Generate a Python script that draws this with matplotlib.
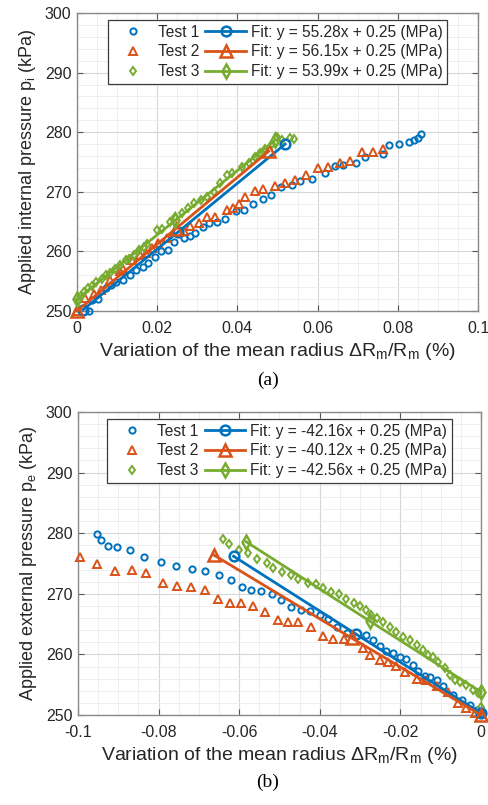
import matplotlib
matplotlib.use("Agg")
import matplotlib.pyplot as plt
from matplotlib.ticker import MultipleLocator
import numpy as np

plt.rcParams['font.family'] = ['Liberation Sans', 'DejaVu Sans']
plt.rcParams['mathtext.fontset'] = 'custom'
plt.rcParams['mathtext.rm'] = 'Liberation Sans'

C1, C2, C3 = '#0072BD', '#D95319', '#77AC30'

# ---------------- (a) internal pressure ----------------
a_t1_x = [0.0029, 0.0038, 0.0052, 0.0073, 0.0086, 0.0098, 0.0115, 0.0131, 0.0148, 0.0165,
          0.0178, 0.0195, 0.0210, 0.0227, 0.0243, 0.0266, 0.0282, 0.0294, 0.0313, 0.0330,
          0.0348, 0.0370, 0.0397, 0.0416, 0.0438, 0.0464, 0.0485, 0.0509, 0.0535, 0.0557,
          0.0587, 0.0619, 0.0644, 0.0664, 0.0695, 0.0717, 0.0763, 0.0778, 0.0802, 0.0828,
          0.0840, 0.0851, 0.0859]
a_t1_y = [250.0, 251.8, 252.0, 253.8, 254.4, 254.9, 255.2, 256.0, 256.8, 257.4,
          258.0, 259.1, 260.1, 260.3, 261.6, 262.3, 262.6, 263.1, 264.1, 264.8,
          264.9, 265.5, 266.8, 267.0, 267.9, 268.8, 269.4, 270.8, 271.2, 271.8,
          272.1, 273.2, 274.3, 274.5, 274.9, 275.9, 276.4, 277.8, 278.1, 278.4,
          278.7, 279.0, 279.7]
a_t2_x = [0.0000, 0.0021, 0.0042, 0.0060, 0.0082, 0.0107, 0.0115, 0.0137, 0.0156, 0.0173,
          0.0187, 0.0202, 0.0225, 0.0266, 0.0283, 0.0304, 0.0324, 0.0345, 0.0374, 0.0388,
          0.0405, 0.0420, 0.0443, 0.0464, 0.0493, 0.0519, 0.0544, 0.0570, 0.0600, 0.0625,
          0.0656, 0.0681, 0.0710, 0.0739, 0.0763]
a_t2_y = [250.0, 252.1, 252.8, 253.5, 255.2, 256.7, 257.0, 258.5, 259.4, 259.8,
          260.5, 261.4, 262.3, 263.4, 264.2, 264.8, 265.7, 265.7, 267.0, 267.3,
          268.0, 269.1, 270.2, 270.5, 271.0, 271.4, 272.0, 272.8, 274.0, 274.2,
          274.8, 275.2, 276.6, 276.7, 277.2]
a_t3_x = [0.0000, 0.0009, 0.0017, 0.0028, 0.0038, 0.0048, 0.0063, 0.0073, 0.0082, 0.0096,
          0.0108, 0.0121, 0.0129, 0.0141, 0.0154, 0.0166, 0.0175, 0.0200, 0.0212, 0.0233,
          0.0245, 0.0262, 0.0278, 0.0291, 0.0308, 0.0324, 0.0341, 0.0357, 0.0374, 0.0387,
          0.0411, 0.0428, 0.0445, 0.0457, 0.0469, 0.0486, 0.0499, 0.0511, 0.0532, 0.0542]
a_t3_y = [252.1, 252.6, 253.2, 253.8, 254.2, 254.9, 255.4, 256.1, 256.3, 257.1,
          257.7, 258.5, 258.8, 259.4, 260.2, 260.8, 261.3, 263.6, 263.8, 265.0,
          265.8, 266.4, 267.2, 268.1, 268.6, 269.2, 270.0, 271.4, 272.8, 273.2,
          274.2, 274.9, 275.9, 276.5, 277.1, 278.0, 279.2, 278.7, 279.0, 278.9]
a_f1_x = [0.0015, 0.0251, 0.0519]
a_f1_y = [250.2, 263.2, 278.0]
a_f2_x = [0.0000, 0.0246, 0.0478]
a_f2_y = [250.0, 263.8, 276.8]
a_f3_x = [0.0000, 0.0245, 0.0495]
a_f3_y = [252.0, 265.2, 278.7]
a_fit_labels = ['Fit: y = 55.28x + 0.25 (MPa)', 'Fit: y = 56.15x + 0.25 (MPa)',
                'Fit: y = 53.99x + 0.25 (MPa)']

# ---------------- (b) external pressure ----------------
b_t1_x = [-0.0952, -0.0944, -0.0925, -0.0904, -0.0871, -0.0836, -0.0794, -0.0757, -0.0718, -0.0686,
          -0.0649, -0.0620, -0.0594, -0.0570, -0.0546, -0.0519, -0.0496, -0.0471, -0.0446, -0.0424,
          -0.0400, -0.0380, -0.0357, -0.0333, -0.0286, -0.0269, -0.0251, -0.0235, -0.0218, -0.0201,
          -0.0185, -0.0168, -0.0156, -0.0139, -0.0127, -0.0110, -0.0094, -0.0069, -0.0048, -0.0027,
          -0.0011, 0.0000]
b_t1_y = [279.9, 278.9, 277.9, 277.7, 277.3, 276.1, 275.2, 274.6, 274.1, 273.8,
          273.1, 272.2, 271.1, 270.6, 270.4, 270.0, 269.0, 267.8, 267.3, 267.2,
          266.5, 265.8, 264.6, 263.5, 263.2, 262.4, 261.4, 260.6, 260.3, 259.6,
          259.2, 258.3, 257.3, 256.4, 256.2, 255.8, 254.8, 253.3, 252.5, 251.7,
          250.8, 250.3]
b_t2_x = [-0.0995, -0.0953, -0.0909, -0.0867, -0.0832, -0.0790, -0.0755, -0.0719, -0.0684, -0.0653,
          -0.0624, -0.0595, -0.0565, -0.0537, -0.0504, -0.0479, -0.0453, -0.0421, -0.0392, -0.0367,
          -0.0341, -0.0294, -0.0276, -0.0251, -0.0231, -0.0210, -0.0189, -0.0160, -0.0137, -0.0110,
          -0.0081, -0.0056, -0.0037, -0.0015]
b_t2_y = [276.0, 274.9, 273.8, 274.0, 273.4, 271.8, 271.3, 271.2, 270.7, 269.2,
          268.5, 268.5, 268.0, 267.0, 265.7, 265.4, 265.3, 264.5, 263.1, 262.5,
          262.5, 261.0, 259.9, 259.0, 258.8, 258.1, 257.1, 255.9, 255.7, 254.8,
          253.8, 252.0, 251.1, 250.4]
b_t3_x = [-0.0641, -0.0626, -0.0601, -0.0579, -0.0555, -0.0532, -0.0515, -0.0494, -0.0471, -0.0454,
          -0.0430, -0.0409, -0.0391, -0.0371, -0.0353, -0.0334, -0.0315, -0.0301, -0.0286, -0.0272,
          -0.0258, -0.0243, -0.0226, -0.0210, -0.0193, -0.0177, -0.0160, -0.0145, -0.0131, -0.0119,
          -0.0106, -0.0090, -0.0077, -0.0065, -0.0052, -0.0036, -0.0019, -0.0007, 0.0000]
b_t3_y = [279.0, 278.2, 277.3, 276.7, 275.7, 275.0, 274.2, 273.6, 273.1, 272.4,
          271.7, 271.6, 271.0, 270.3, 269.9, 269.1, 268.5, 268.0, 267.3, 266.5,
          266.0, 265.4, 264.5, 263.7, 262.9, 262.4, 261.6, 260.7, 259.9, 259.5,
          258.8, 257.7, 256.6, 255.8, 255.5, 255.0, 254.1, 253.6, 251.4]
b_f1_x = [-0.0614, -0.0309, 0.0000]
b_f1_y = [276.2, 263.3, 250.3]
b_f2_x = [-0.0663, -0.0321, 0.0000]
b_f2_y = [276.4, 262.7, 250.0]
b_f3_x = [-0.0583, -0.0276, 0.0000]
b_f3_y = [278.6, 265.5, 253.8]
b_fit_labels = ['Fit: y = -42.16x + 0.25 (MPa)', 'Fit: y = -40.12x + 0.25 (MPa)',
                'Fit: y = -42.56x + 0.25 (MPa)']

test_labels = ['Test 1', 'Test 2', 'Test 3']
x_ticks_a = [0, 0.02, 0.04, 0.06, 0.08, 0.1]
x_ticklabels_a = ['0', '0.02', '0.04', '0.06', '0.08', '0.1']
x_ticks_b = [-0.1, -0.08, -0.06, -0.04, -0.02, 0]
x_ticklabels_b = ['-0.1', '-0.08', '-0.06', '-0.04', '-0.02', '0']
y_ticks = [250, 260, 270, 280, 290, 300]

fig = plt.figure(figsize=(4.89, 8.05), dpi=100)
ax1 = fig.add_axes([77/489, 1-311/805, 401/489, 298/805])
ax2 = fig.add_axes([78/489, 1-715/805, 403/489, 303/805])

styles = [('o', C1, 4.5), ('^', C2, 5.5), ('d', C3, 4.5)]
fit_ms = [7, 8.5, 7]


def draw(ax, tests, fits, fit_labels, xticks, xticklabels, xlim, ylabel):
    ax.set_axisbelow(True)
    hs_t, hs_f = [], []
    for (tx, ty), (m, c, ms), lab in zip(tests, styles, test_labels):
        h, = ax.plot(tx, ty, linestyle='none', marker=m, ms=ms, mfc='none', mec=c,
                     mew=1.4, label=lab, clip_on=False, zorder=3)
        hs_t.append(h)
    for (fx, fy), (m, c, ms), fm, lab in zip(fits, styles, fit_ms, fit_labels):
        h, = ax.plot(fx, fy, '-', color=c, lw=2.0, marker=m, ms=fm, mfc='none', mec=c,
                     mew=1.8, label=lab, clip_on=False, zorder=4)
        hs_f.append(h)
    ax.set_xlim(*xlim)
    ax.set_ylim(250, 300)
    ax.set_xticks(xticks)
    ax.set_xticklabels(xticklabels)
    ax.set_yticks(y_ticks)
    ax.xaxis.set_minor_locator(MultipleLocator(0.005))
    ax.yaxis.set_minor_locator(MultipleLocator(2))
    ax.grid(True, which='major', color='#d6d6d6', lw=0.8)
    ax.grid(True, which='minor', color='#ececec', lw=0.6)
    ax.tick_params(which='both', direction='in', top=True, right=True, color='#555555',
                   labelsize=11.5, labelcolor='#262626')
    ax.tick_params(axis='x', pad=7.5)
    ax.tick_params(axis='y', pad=4)
    ax.tick_params(which='major', length=4)
    ax.tick_params(which='minor', length=0)
    for s in ax.spines.values():
        s.set_color('#8a8a8a')
        s.set_linewidth(1.0)
    ax.set_xlabel('Variation of the mean radius ΔR$_\\mathregular{m}$/R$_\\mathregular{m}$ (%)',
                  fontsize=14, color='#262626', labelpad=3)
    ax.set_ylabel(ylabel, fontsize=13, color='#262626', labelpad=5)
    leg = ax.legend(hs_t + hs_f, test_labels + list(fit_labels), ncol=2, loc='upper center',
                    fontsize=11.2, frameon=True, fancybox=False, framealpha=1,
                    edgecolor='#3a3a3a', borderaxespad=0.45, handlelength=2.6,
                    handletextpad=0.3, columnspacing=0.4, labelspacing=0.3,
                    borderpad=0.3)
    leg.get_frame().set_linewidth(0.9)
    for t in leg.get_texts():
        t.set_color('#262626')


draw(ax1, [(a_t1_x, a_t1_y), (a_t2_x, a_t2_y), (a_t3_x, a_t3_y)],
     [(a_f1_x, a_f1_y), (a_f2_x, a_f2_y), (a_f3_x, a_f3_y)], a_fit_labels,
     x_ticks_a, x_ticklabels_a, (0, 0.1),
     'Applied internal pressure p$_\\mathregular{i}$ (kPa)')
draw(ax2, [(b_t1_x, b_t1_y), (b_t2_x, b_t2_y), (b_t3_x, b_t3_y)],
     [(b_f1_x, b_f1_y), (b_f2_x, b_f2_y), (b_f3_x, b_f3_y)], b_fit_labels,
     x_ticks_b, x_ticklabels_b, (-0.1, 0),
     'Applied external pressure p$_\\mathregular{e}$ (kPa)')

fig.text(268/489, 1-380/805, '(a)', ha='center', va='center', fontsize=14,
         family='Liberation Serif')
fig.text(268/489, 1-782/805, '(b)', ha='center', va='center', fontsize=14,
         family='Liberation Serif')

fig.savefig('out.png', dpi=100)
